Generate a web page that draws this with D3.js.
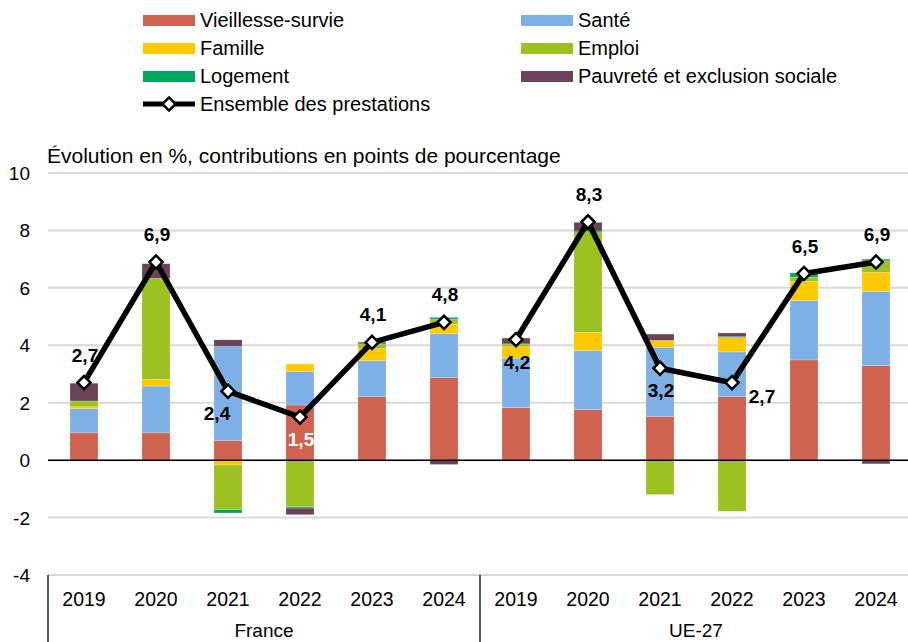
<!DOCTYPE html>
<html>
<head>
<meta charset="utf-8">
<script src="https://cdn.jsdelivr.net/npm/d3@7"></script>
<style>
  body { margin: 0; background: #fff; }
  svg { display: block; font-family: "Liberation Sans", Arial, sans-serif; }
</style>
</head>
<body>
<div id="chart"></div>
<script>
var years = ['2019', '2020', '2021', '2022', '2023', '2024'];
var groups = ['France', 'UE-27'];

var seriesNames = ['Vieillesse-survie', 'Santé', 'Famille', 'Emploi', 'Logement', 'Pauvreté et exclusion sociale'];
var seriesColors = ['#cf6350', '#7db0e6', '#ffc900', '#9bc220', '#00a75c', '#6c425a'];

// contributions, France 2019-2024 then UE-27 2019-2024
var vieillesse = [0.95, 0.95, 0.68, 1.92, 2.21, 2.87, 1.83, 1.76, 1.52, 2.21, 3.49, 3.29];
var sante = [0.84, 1.63, 3.28, 1.16, 1.25, 1.53, 1.72, 2.05, 2.41, 1.56, 2.07, 2.59];
var famille = [0.07, 0.23, -0.17, 0.27, 0.42, 0.33, 0.40, 0.64, 0.24, 0.50, 0.67, 0.66];
var emploi = [0.20, 3.52, -1.55, -1.63, 0.17, 0.17, 0.10, 3.47, -1.20, -1.78, 0.14, 0.40];
var logement = [0, 0, -0.12, -0.04, 0, 0.07, 0, 0.06, 0, 0.03, 0.15, 0.06];
var pauvrete = [0.62, 0.51, 0.23, -0.23, 0.06, -0.15, 0.20, 0.30, 0.22, 0.13, 0, -0.13];

var ensemble = [2.7, 6.9, 2.4, 1.5, 4.1, 4.8, 4.2, 8.3, 3.2, 2.7, 6.5, 6.9];
var labelTexts = ['2,7', '6,9', '2,4', '1,5', '4,1', '4,8', '4,2', '8,3', '3,2', '2,7', '6,5', '6,9'];
var labelPlaces = ['above', 'above', 'belowleft', 'below', 'above', 'above',
                   'below', 'above', 'below', 'right', 'above', 'above'];

var yTicks = [-4, -2, 0, 2, 4, 6, 8, 10];

var width = 908;
var height = 642;

var svg = d3.select('#chart')
    .append('svg')
    .attr('width', width)
    .attr('height', height);

var categories = [];
groups.forEach(function (g) {
    years.forEach(function (y) {
        categories.push(g + '|' + y);
    });
});

var seriesValues = [vieillesse, sante, famille, emploi, logement, pauvrete];
var table = categories.map(function (c, i) {
    var row = { key: c };
    seriesNames.forEach(function (s, j) {
        row[s] = seriesValues[j][i];
    });
    return row;
});

var x = d3.scaleBand()
    .domain(categories)
    .range([48, 912])
    .paddingInner(0.61)
    .paddingOuter(0.305);

var y = d3.scaleLinear()
    .domain([-4, 10])
    .range([575, 173]);

// grid
svg.selectAll('.grid')
    .data(yTicks)
    .enter()
    .append('line')
    .attr('class', 'grid')
    .attr('x1', 48)
    .attr('x2', 912)
    .attr('y1', function (d) { return y(d); })
    .attr('y2', function (d) { return y(d); })
    .attr('stroke', '#d9d9d9')
    .attr('stroke-width', 2);

svg.selectAll('.ytick')
    .data(yTicks)
    .enter()
    .append('text')
    .attr('class', 'ytick')
    .attr('x', 30)
    .attr('y', function (d) { return y(d) + 7; })
    .attr('text-anchor', 'end')
    .attr('font-size', 19)
    .attr('fill', '#000')
    .text(function (d) { return d; });

svg.append('text')
    .attr('x', 47)
    .attr('y', 163)
    .attr('font-size', 21)
    .text('Évolution en %, contributions en points de pourcentage');

// stacked bars
var stack = d3.stack()
    .keys(seriesNames)
    .offset(d3.stackOffsetDiverging);

var layers = svg.selectAll('.layer')
    .data(stack(table))
    .enter()
    .append('g')
    .attr('class', 'layer')
    .attr('fill', function (d, i) { return seriesColors[i]; });

layers.selectAll('rect')
    .data(function (d) { return d; })
    .enter()
    .append('rect')
    .attr('x', function (d) { return x(d.data.key); })
    .attr('width', x.bandwidth())
    .attr('y', function (d) { return y(Math.max(d[0], d[1])); })
    .attr('height', function (d) { return Math.abs(y(d[0]) - y(d[1])); })
    .attr('stroke', 'rgba(255,255,255,0.35)')
    .attr('stroke-width', 0.6);

// zero line
svg.append('line')
    .attr('x1', 48)
    .attr('x2', 912)
    .attr('y1', y(0))
    .attr('y2', y(0))
    .attr('stroke', '#000')
    .attr('stroke-width', 1.5);

// x axis: years and groups
svg.selectAll('.xtick')
    .data(categories)
    .enter()
    .append('text')
    .attr('class', 'xtick')
    .attr('x', function (d) { return x(d) + x.bandwidth() / 2; })
    .attr('y', 606)
    .attr('text-anchor', 'middle')
    .attr('font-size', 19.5)
    .text(function (d) { return d.split('|')[1]; });

var groupX = d3.scaleBand()
    .domain(groups)
    .range([48, 912]);

svg.selectAll('.glabel')
    .data(groups)
    .enter()
    .append('text')
    .attr('class', 'glabel')
    .attr('x', function (d) { return groupX(d) + groupX.bandwidth() / 2; })
    .attr('y', 637)
    .attr('text-anchor', 'middle')
    .attr('font-size', 19)
    .text(function (d) { return d; });

svg.selectAll('.gsep')
    .data([48, 480, 912])
    .enter()
    .append('line')
    .attr('class', 'gsep')
    .attr('x1', function (d) { return d; })
    .attr('x2', function (d) { return d; })
    .attr('y1', y(-4))
    .attr('y2', height)
    .attr('stroke', '#000')
    .attr('stroke-width', 1.3);

// total line, one per group
var line = d3.line()
    .x(function (d) { return x(d.key) + x.bandwidth() / 2; })
    .y(function (d) { return y(d.value); });

var points = categories.map(function (c, i) {
    return { key: c, value: ensemble[i], label: labelTexts[i], place: labelPlaces[i], idx: i };
});

groups.forEach(function (g) {
    var pts = points.filter(function (p) { return p.key.split('|')[0] === g; });
    svg.append('path')
        .datum(pts)
        .attr('d', line)
        .attr('fill', 'none')
        .attr('stroke', '#000')
        .attr('stroke-width', 5.5)
        .attr('stroke-linejoin', 'miter');
});

var diamond = d3.symbol().type(d3.symbolDiamond2).size(110);

svg.selectAll('.marker')
    .data(points)
    .enter()
    .append('path')
    .attr('class', 'marker')
    .attr('d', diamond)
    .attr('transform', function (d) {
        return 'translate(' + (x(d.key) + x.bandwidth() / 2) + ',' + y(d.value) + ')';
    })
    .attr('fill', '#fff')
    .attr('stroke', '#000')
    .attr('stroke-width', 2.5);

var offsets = {
    above: [1, -21],
    below: [1, 29],
    belowleft: [-11, 29],
    right: [30, 20]
};

svg.selectAll('.vlabel')
    .data(points)
    .enter()
    .append('text')
    .attr('class', 'vlabel')
    .attr('x', function (d) { return x(d.key) + x.bandwidth() / 2 + offsets[d.place][0]; })
    .attr('y', function (d) { return y(d.value) + offsets[d.place][1]; })
    .attr('text-anchor', 'middle')
    .attr('font-size', 19)
    .attr('font-weight', 'bold')
    .attr('fill', function (d) { return d.idx === 3 ? '#fff' : '#000'; })
    .text(function (d) { return d.label; });

// legend
var legend = svg.selectAll('.legend')
    .data(seriesNames)
    .enter()
    .append('g')
    .attr('class', 'legend')
    .attr('transform', function (d, i) {
        var col = i % 2;
        var row = Math.floor(i / 2);
        return 'translate(' + (143 + col * 378) + ',' + (20 + row * 28) + ')';
    });

legend.append('rect')
    .attr('x', 0)
    .attr('y', -5)
    .attr('width', 52)
    .attr('height', 11)
    .attr('fill', function (d, i) { return seriesColors[i]; });

legend.append('text')
    .attr('x', 57)
    .attr('y', 7)
    .attr('font-size', 20)
    .text(function (d) { return d; });

var lineLegend = svg.append('g')
    .attr('transform', 'translate(143,104)');

lineLegend.append('line')
    .attr('x1', 0)
    .attr('x2', 52)
    .attr('stroke', '#000')
    .attr('stroke-width', 5);

lineLegend.append('path')
    .attr('d', diamond)
    .attr('transform', 'translate(26,0)')
    .attr('fill', '#fff')
    .attr('stroke', '#000')
    .attr('stroke-width', 2.5);

lineLegend.append('text')
    .attr('x', 57)
    .attr('y', 7)
    .attr('font-size', 20)
    .text('Ensemble des prestations');
</script>
</body>
</html>
